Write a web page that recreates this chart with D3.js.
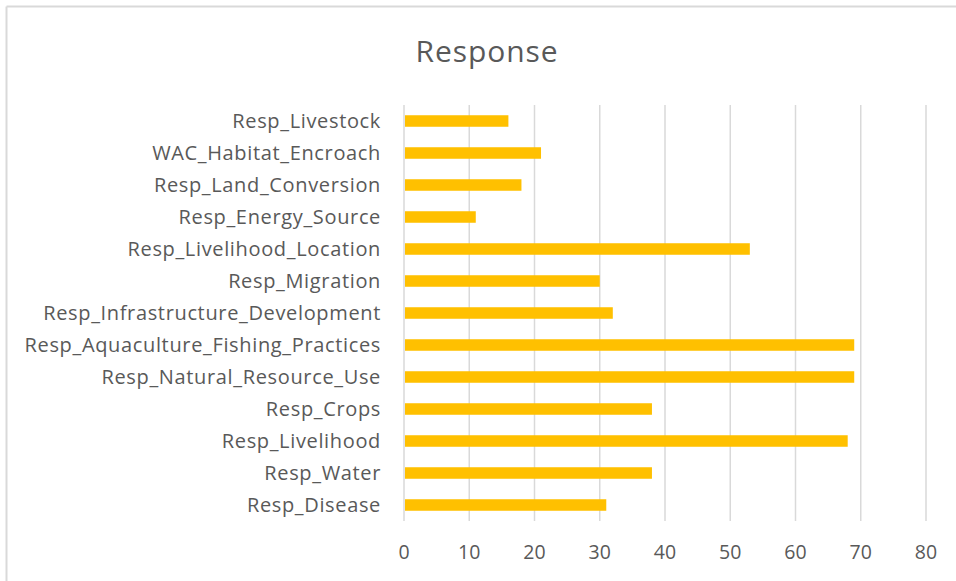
<!DOCTYPE html>
<html>
<head>
<meta charset="utf-8">
<script src="https://cdn.jsdelivr.net/npm/d3@7"></script>
<style>
  html, body { margin: 0; padding: 0; background: #fff; }
  svg { display: block; }
</style>
</head>
<body>
<svg id="chart" width="956" height="581"></svg>
<script>
const title = "Response";
const categories = [
  "Resp_Livestock",
  "WAC_Habitat_Encroach",
  "Resp_Land_Conversion",
  "Resp_Energy_Source",
  "Resp_Livelihood_Location",
  "Resp_Migration",
  "Resp_Infrastructure_Development",
  "Resp_Aquaculture_Fishing_Practices",
  "Resp_Natural_Resource_Use",
  "Resp_Crops",
  "Resp_Livelihood",
  "Resp_Water",
  "Resp_Disease"
];
const values = [16, 21, 18, 11, 53, 30, 32, 69, 69, 38, 68, 38, 31];
const xTicks = [0, 10, 20, 30, 40, 50, 60, 70, 80];

(function () {
const svg = d3.select("#chart");
const font = "'Open Sans', 'Noto Sans', sans-serif";
const textColor = "#595959";

// frame (top + left visible)
svg.append("line").attr("x1", 6.5).attr("x2", 956).attr("y1", 6.5).attr("y2", 6.5)
  .attr("stroke", "#d9d9d9").attr("stroke-width", 2);
svg.append("line").attr("x1", 6.5).attr("x2", 6.5).attr("y1", 6.5).attr("y2", 581)
  .attr("stroke", "#d9d9d9").attr("stroke-width", 2);

const pLeft = 404, pRight = 926, pTop = 105, pBottom = 521;

const x = d3.scaleLinear().domain([0, 80]).range([pLeft, pRight]);
const y = d3.scaleBand().domain(categories).range([pTop, pBottom]).paddingInner(0.64).paddingOuter(0.32);

// gridlines
svg.append("g").selectAll("line").data(xTicks).join("line")
  .attr("x1", d => x(d)).attr("x2", d => x(d))
  .attr("y1", pTop).attr("y2", pBottom)
  .attr("stroke", "#d9d9d9").attr("stroke-width", 1.5);

// bars
svg.append("g").selectAll("rect").data(categories).join("rect")
  .attr("x", x(0) + 1)
  .attr("y", d => y(d))
  .attr("width", (d, i) => x(values[i]) - x(0) - 1)
  .attr("height", y.bandwidth())
  .attr("fill", "#FFC000");

// category labels
svg.append("g").selectAll("text").data(categories).join("text")
  .attr("x", 381)
  .attr("y", d => y(d) + y.bandwidth() / 2)
  .attr("dy", "0.33em")
  .attr("text-anchor", "end")
  .attr("font-family", font)
  .attr("font-size", 20)
  .attr("letter-spacing", 0.65)
  .attr("fill", textColor)
  .text(d => d);

// x tick labels
svg.append("g").selectAll("text").data(xTicks).join("text")
  .attr("x", d => x(d))
  .attr("y", 552)
  .attr("dy", "0.35em")
  .attr("text-anchor", "middle")
  .attr("font-family", font)
  .attr("font-size", 19.5)
  .attr("fill", textColor)
  .text(d => d);

// title
svg.append("text")
  .attr("x", 487).attr("y", 51)
  .attr("dy", "0.35em")
  .attr("text-anchor", "middle")
  .attr("font-family", font)
  .attr("font-size", 30)
  .attr("letter-spacing", 0.9)
  .attr("fill", textColor)
  .text(title);
})();
</script>
</body>
</html>
